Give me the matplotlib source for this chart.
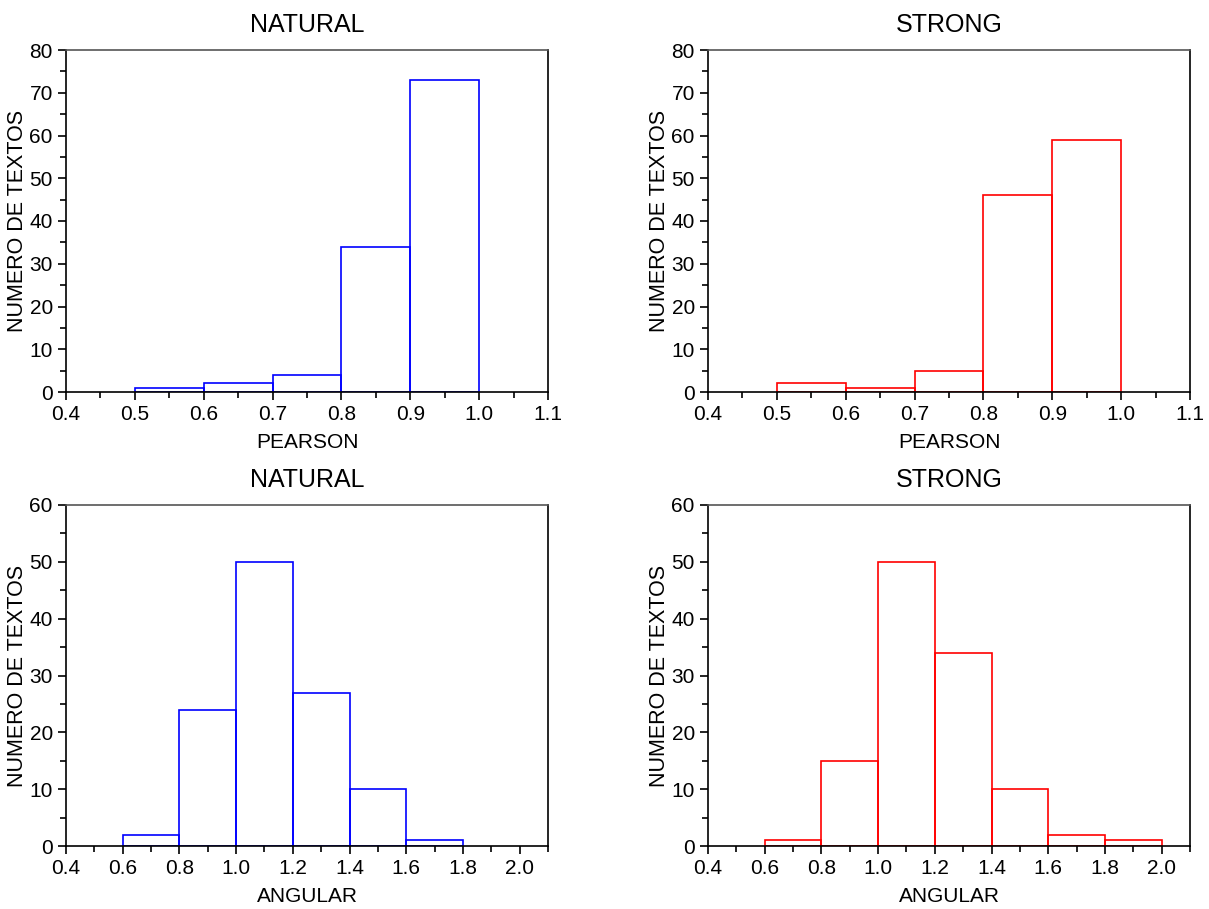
import numpy as np
import matplotlib.pyplot as plt
from matplotlib.ticker import MultipleLocator

plt.rcParams['font.family'] = ['Liberation Sans', 'DejaVu Sans']

# Histogram counts
pearson_edges = [0.5, 0.6, 0.7, 0.8, 0.9, 1.0]
pearson_natural = [1, 2, 4, 34, 73]
pearson_strong = [2, 1, 5, 46, 59]

angular_edges = [0.6, 0.8, 1.0, 1.2, 1.4, 1.6, 1.8, 2.0]
angular_natural = [2, 24, 50, 27, 10, 1, 0]
angular_strong = [1, 15, 50, 34, 10, 2, 1]

fig = plt.figure(figsize=(12.09, 9.09), dpi=100)


def draw(ax, edges, counts, color, title, xlabel, xlim, xmaj, ylim):
    edges = np.array(edges)
    counts = np.array(counts)
    keep = counts > 0
    ax.bar(edges[:-1][keep], counts[keep], width=np.diff(edges)[keep], align='edge',
           facecolor='none', edgecolor=color, linewidth=1.2)
    ax.set_xlim(*xlim)
    ax.set_ylim(*ylim)
    ax.xaxis.set_major_locator(MultipleLocator(xmaj))
    ax.xaxis.set_minor_locator(MultipleLocator(xmaj / 2))
    ax.yaxis.set_major_locator(MultipleLocator(10))
    ax.yaxis.set_minor_locator(MultipleLocator(5))
    ax.xaxis.set_major_formatter(plt.FormatStrFormatter('%.1f'))
    ax.tick_params(which='both', direction='out', labelsize=15, width=1.2)
    ax.tick_params(which='major', length=6)
    ax.tick_params(which='minor', length=4)
    ax.set_title(title, fontsize=18, pad=13)
    ax.set_xlabel(xlabel, fontsize=15, labelpad=6)
    ax.set_ylabel('NUMERO DE TEXTOS', fontsize=15.5, labelpad=1)
    for s in ax.spines.values():
        s.set_linewidth(1.2)
    ax.spines['top'].set_color('#555555')


ax1 = fig.add_axes([66 / 1209, 1 - 392 / 909, 482 / 1209, 342 / 909])
draw(ax1, pearson_edges, pearson_natural, 'blue', 'NATURAL', 'PEARSON', (0.4, 1.1), 0.1, (0, 80))
ax2 = fig.add_axes([708 / 1209, 1 - 392 / 909, 482 / 1209, 342 / 909])
draw(ax2, pearson_edges, pearson_strong, 'red', 'STRONG', 'PEARSON', (0.4, 1.1), 0.1, (0, 80))
ax3 = fig.add_axes([66 / 1209, 1 - 846 / 909, 482 / 1209, 341 / 909])
draw(ax3, angular_edges, angular_natural, 'blue', 'NATURAL', 'ANGULAR', (0.4, 2.1), 0.2, (0, 60))
ax4 = fig.add_axes([708 / 1209, 1 - 846 / 909, 482 / 1209, 341 / 909])
draw(ax4, angular_edges, angular_strong, 'red', 'STRONG', 'ANGULAR', (0.4, 2.1), 0.2, (0, 60))

plt.savefig('out.png', dpi=100)
